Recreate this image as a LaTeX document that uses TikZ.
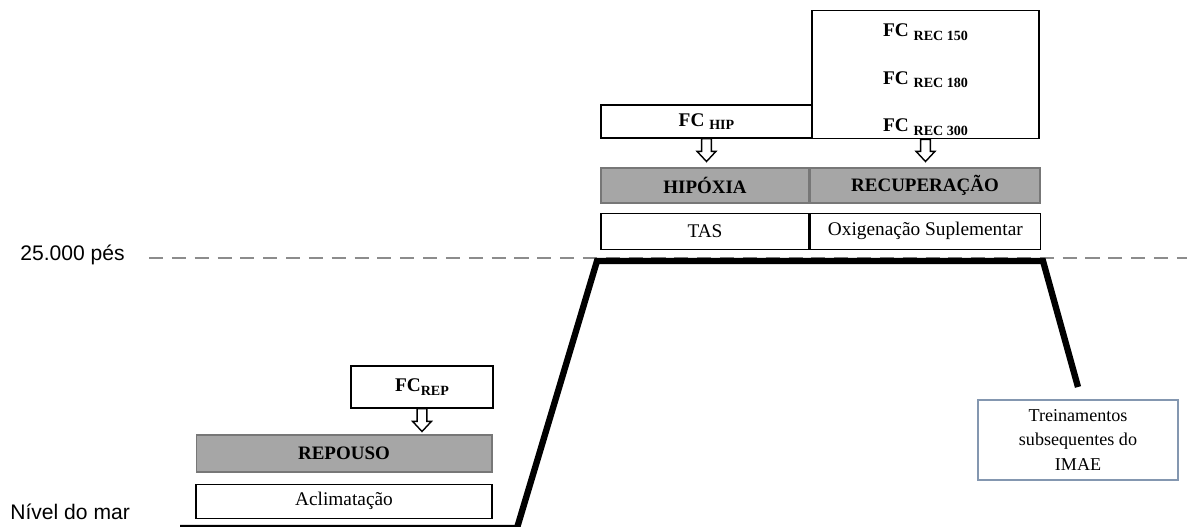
\documentclass[tikz,border=0pt]{standalone}
\usepackage{fontspec}
\setmainfont{Liberation Serif}
\newfontfamily\arialfont{Liberation Sans}
\usepackage{tikz}
\usetikzlibrary{positioning,calc}
\definecolor{barfill}{HTML}{A6A6A6}
\definecolor{barline}{HTML}{777777}
\definecolor{noteline}{HTML}{8497B0}
\tikzset{
  box/.style={draw=black, line width=0.8pt, align=center, inner sep=2pt, font=\fontsize{11}{13}\selectfont},
  fcbox/.style={box, font=\bfseries\fontsize{11}{13}\selectfont},
  graybox/.style={box, draw=barline, line width=0.6pt, fill=barfill, font=\bfseries\fontsize{10.8}{13}\selectfont},
  notebox/.style={box, draw=noteline, line width=0.7pt, font=\fontsize{10.3}{13.7}\selectfont},
  lvl/.style={anchor=west, inner sep=0pt, font=\arialfont\fontsize{12}{14}\selectfont},
  profile/.style={line width=3.6pt, line join=miter},
  level/.style={draw=black!45, line width=1.1pt, dash pattern=on 8pt off 5pt},
  hollow/.style={draw=black, fill=white, line width=0.8pt},
}
\newcommand{\fcsub}[1]{\raisebox{-0.4ex}{\fontsize{8}{9}\selectfont #1}}
% hollow block arrow, straight down from #1 to the height of #2
\newcommand{\hollowarrow}[2]{%
  \filldraw[hollow] let \p1=(#1), \p2=(#2) in
    (\x1-2.8pt,\y1) -- (\x1-2.8pt,\y2+5.8pt) -- (\x1-5.4pt,\y2+5.8pt) -- (\x1,\y2)
    -- (\x1+5.4pt,\y2+5.8pt) -- (\x1+2.8pt,\y2+5.8pt) -- (\x1+2.8pt,\y1) -- cycle;}

\begin{document}
\begin{tikzpicture}[x=0.02cm, y=-0.02cm]
  \useasboundingbox (0,0) rectangle (1187,527);
  % altitude levels and flight profile
  \node[lvl] (alt) at (20,255) {25.000 pés};
  \node[lvl] (sea) at (10,512) {Nível do mar};
  \draw[level] (149,258) -- (1187,258);
  \draw[profile] (180,528) -- (517,528) -- (597,261) -- (1043,261) -- (1078,387);

  % rest at sea level
  \node[fcbox, minimum width=2.84cm, minimum height=0.84cm] (rep) at (422,387) {FC\fcsub{REP}};
  \node[graybox, minimum width=5.92cm, minimum height=0.74cm] (repbar) at (344,453.5) {REPOUSO};
  \node[box, minimum width=5.92cm, minimum height=0.68cm, below=0.22cm of repbar] (acli) {Aclimatação};
  \hollowarrow{rep.south}{[yshift=1.7pt]repbar.north}

  % hypoxia and recovery at altitude
  \node[fcbox, minimum width=4.22cm, minimum height=0.66cm] (hip) at (706.5,121.5) {FC \fcsub{HIP}};
  \node[fcbox, minimum width=4.54cm, minimum height=2.5cm, font=\bfseries\fontsize{11}{27}\selectfont] (rec) at (925.5,74.5)
    {\rule{0pt}{13pt}FC \fcsub{REC 150}\\FC \fcsub{REC 180}\\FC \fcsub{REC 300}};
  \node[graybox, minimum width=4.16cm, minimum height=0.7cm] (hipbar) at (705,185.5) {HIPÓXIA};
  \node[graybox, minimum width=4.6cm, minimum height=0.7cm, right=0pt of hipbar] (recbar) {RECUPERAÇÃO};
  \node[box, minimum width=4.16cm, minimum height=0.72cm, below=0.18cm of hipbar] (tas) {TAS};
  \node[box, minimum width=4.6cm, minimum height=0.72cm, right=0pt of tas] (oxi) {Oxigenação Suplementar};
  \hollowarrow{hip.south}{[yshift=3.4pt]hipbar.north}
  \hollowarrow{rec.south}{[yshift=3.4pt]recbar.north}

  \node[notebox, minimum width=4cm, minimum height=1.6cm] (trein) at (1078,440) {Treinamentos\\subsequentes do\\IMAE};
\end{tikzpicture}
\end{document}
